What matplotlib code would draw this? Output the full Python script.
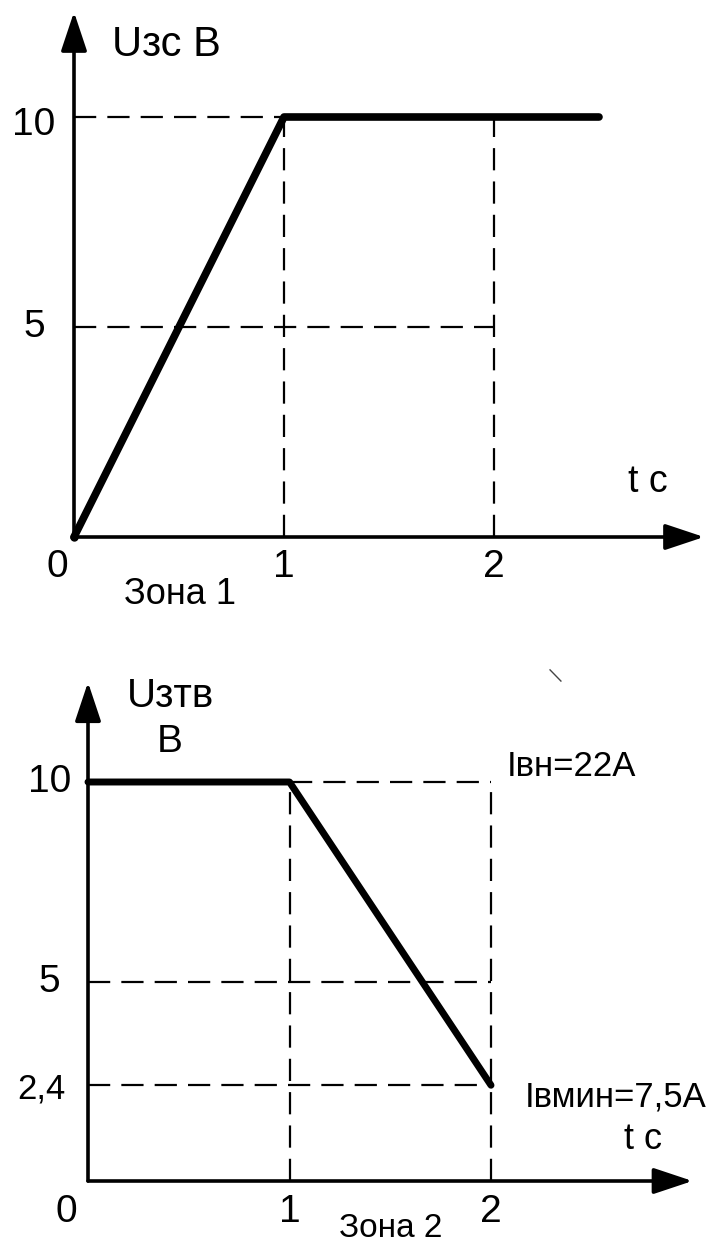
import matplotlib
matplotlib.use("Agg")
import matplotlib.pyplot as plt

plt.rcParams['font.family'] = ['Liberation Sans', 'DejaVu Sans']

# ---- data: upper graph (Зона 1)
t1 = [0, 1, 2.5]
u1 = [0, 10, 10]
t1_ticks = [0, 1, 2]
u1_ticks = [5, 10]
u1_ticklabels = ['5', '10']
# dashed guides: (x_from, x_to, y) horizontal, (x, y_from, y_to) vertical
h1_guides = [(0, 1, 10), (0, 2, 5)]
v1_guides = [(1, 0, 10), (2, 0, 10)]

# ---- data: lower graph (Зона 2)
t2 = [0, 1, 2]
u2 = [10, 10, 2.4]
t2_ticks = [0, 1, 2]
u2_ticks = [10, 5, 2.4]
u2_ticklabels = ['10', '5', '2,4']
h2_guides = [(1, 2, 10), (0, 2, 5), (0, 2, 2.4)]
v2_guides = [(1, 0, 10), (2, 0, 10)]
stray_t = [2.293, 2.347]
stray_u = [12.81, 12.53]

W, H = 708, 1245
fig = plt.figure(figsize=(W / 100, H / 100), dpi=100)


def place(x0, ux, y0, uy, xlim, ylim):
    left = (x0 + xlim[0] * ux) / W
    width = (xlim[1] - xlim[0]) * ux / W
    bottom = (H - y0 + ylim[0] * uy) / H
    height = (ylim[1] - ylim[0]) * uy / H
    ax = fig.add_axes([left, bottom, width, height])
    ax.set_xlim(xlim)
    ax.set_ylim(ylim)
    ax.axis('off')
    return ax


def arrow_axes(ax, xmax, ymax):
    style = '-|>,head_length=1.2,head_width=0.4'
    for tip in [(xmax, 0), (0, ymax)]:
        ax.annotate('', xy=tip, xytext=(0, 0),
                    arrowprops=dict(arrowstyle=style, lw=2.6, color='black',
                                    shrinkA=0, shrinkB=0, mutation_scale=20),
                    annotation_clip=False)


def guides(ax, hs, vs):
    for x0, x1, y in hs:
        ax.plot([x0, x1], [y, y], color='black', lw=1.6, dashes=(10, 5))
    for x, y0, y1 in vs:
        ax.plot([x, x], [y0, y1], color='black', lw=1.6, dashes=(10, 5))


# ---------------- upper graph
ax1 = place(74, 210, 537, 42, (-0.35, 3.05), (-2.0, 12.6))
guides(ax1, h1_guides, v1_guides)
arrow_axes(ax1, 3.0, 12.5)
ax1.plot(t1, u1, color='black', lw=5.5, solid_capstyle='round',
         solid_joinstyle='round')
ax1.plot([0], [0], 'o', color='black', ms=5)
for v, lab in zip(u1_ticks, u1_ticklabels):
    ax1.text(-0.19, v - 0.2 * (v == 10), lab, fontsize=28, ha='center', va='center')
for v in t1_ticks:
    ax1.text(v - 0.08 * (v == 0), -0.72, str(v), fontsize=28, ha='center', va='center')
ax1.text(0.44, 11.71, 'Uзс В', fontsize=30, ha='center', va='center')
ax1.text(2.733, 1.3, 't c', fontsize=27, ha='center', va='center')
ax1.text(0.505, -1.38, 'Зона 1', fontsize=26, ha='center', va='center')

# ---------------- lower graph
ax2 = place(88, 201.5, 1181, 39.9, (-0.42, 3.05), (-1.6, 12.6))
guides(ax2, h2_guides, v2_guides)
arrow_axes(ax2, 3.0, 12.5)
ax2.plot(t2, u2, color='black', lw=5, solid_capstyle='round',
         solid_joinstyle='round')
ax2.plot(stray_t, stray_u, color='#444444', lw=1, clip_on=False)
for v, lab in zip(u2_ticks, u2_ticklabels):
    ax2.text(-0.19 - 0.04 * (v == 2.4), v - 0.1 * (v == 2.4), lab,
             fontsize=25 if v == 2.4 else 28, ha='center', va='center')
for v in t2_ticks:
    ax2.text(v - 0.11 * (v == 0), -0.78, str(v), fontsize=28, ha='center', va='center')
ax2.text(0.407, 12.15, 'Uзтв', fontsize=29, ha='center', va='center')
ax2.text(0.407, 11.0, 'В', fontsize=28, ha='center', va='center')
ax2.text(2.08, 10.38, 'Iвн=22А', fontsize=25, ha='left', va='center')
ax2.text(2.169, 2.105, 'Iвмин=7,5А', fontsize=25, ha='left', va='center')
ax2.text(2.754, 1.03, 't c', fontsize=26, ha='center', va='center')
ax2.text(1.5, -1.2, 'Зона 2', fontsize=24, ha='center', va='center')

fig.savefig('out.png', dpi=100)
